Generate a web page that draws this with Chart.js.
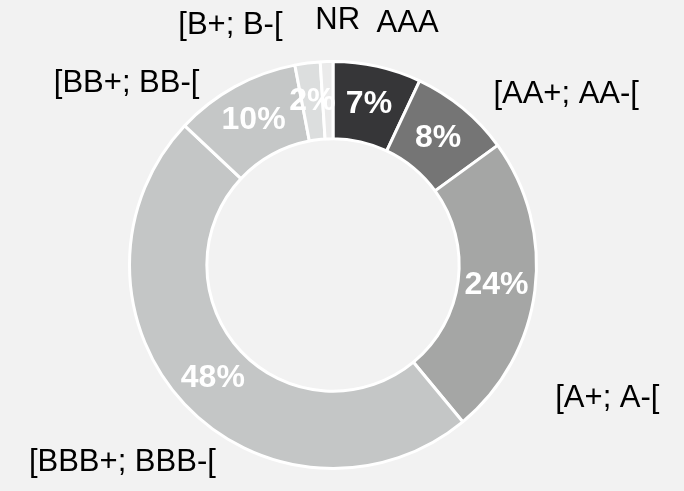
<!DOCTYPE html>
<html lang="en">
<head>
    <meta charset="UTF-8">
    <title>Rating breakdown</title>
    <script src="https://cdn.jsdelivr.net/npm/chart.js"></script>
    <style>
        html, body {
            margin: 0;
            padding: 0;
            background: #f2f2f2;
        }
        .chart-container {
            width: 684px;
            height: 491px;
        }
    </style>
</head>
<body>
    <div class="chart-container"><canvas id="ratingChart"></canvas></div>
    <script>
        // data
        const ratings = ['AAA', '[AA+; AA-[', '[A+; A-[', '[BBB+; BBB-[', '[BB+; BB-[', '[B+; B-[', 'NR'];
        const shares = [7, 8, 24, 48, 10, 2, 1];
        const sliceColors = ['#363638', '#757575', '#a5a6a5', '#c4c6c6', '#c5c7c7', '#dcdede', '#eaeaea'];
        const showPercent = [true, true, true, true, true, true, false];

        // outside labels: angle shift from slice middle (deg) and distance as a factor of the outer radius
        const outsideLabelPlace = [
            [4.6, 1.24], [14.2, 1.42], [18.8, 1.50], [0, 1.42], [-19.9, 1.35], [-16, 1.28], [2.9, 1.20]
        ];

        const labelPlugin = {
            id: 'ratingLabels',
            afterDatasetsDraw(chart) {
                const ctx = chart.ctx;
                const meta = chart.getDatasetMeta(0);
                const total = shares.reduce((a, b) => a + b, 0);
                ctx.save();
                ctx.textAlign = 'center';
                ctx.textBaseline = 'middle';
                meta.data.forEach((arc, i) => {
                    const p = arc.getProps(['x', 'y', 'startAngle', 'endAngle', 'innerRadius', 'outerRadius'], true);
                    const mid = (p.startAngle + p.endAngle) / 2;
                    const rMid = (p.innerRadius + p.outerRadius) / 2;
                    // percentage inside the ring
                    if (showPercent[i]) {
                        ctx.fillStyle = '#ffffff';
                        ctx.font = 'bold 32px "Liberation Sans", Arial, sans-serif';
                        ctx.fillText(Math.round(shares[i] / total * 100) + '%',
                            p.x + Math.cos(mid) * rMid, p.y + Math.sin(mid) * rMid);
                    }
                    // category name outside
                    const place = outsideLabelPlace[i];
                    const a = mid + place[0] * Math.PI / 180;
                    const r = p.outerRadius * place[1];
                    ctx.fillStyle = '#000000';
                    ctx.font = '31px "Liberation Sans", Arial, sans-serif';
                    ctx.fillText(ratings[i], p.x + Math.cos(a) * r, p.y + Math.sin(a) * r);
                });
                ctx.restore();
            }
        };

        new Chart(document.getElementById('ratingChart'), {
            type: 'doughnut',
            data: {
                labels: ratings,
                datasets: [{
                    data: shares,
                    backgroundColor: sliceColors,
                    borderColor: '#ffffff',
                    borderWidth: 3
                }]
            },
            options: {
                responsive: true,
                maintainAspectRatio: false,
                animation: false,
                cutout: '62%',
                layout: {
                    padding: { top: 60, bottom: 21, left: 128, right: 146 }
                },
                plugins: {
                    legend: { display: false },
                    tooltip: { enabled: false }
                }
            },
            plugins: [labelPlugin]
        });
    </script>
</body>
</html>
